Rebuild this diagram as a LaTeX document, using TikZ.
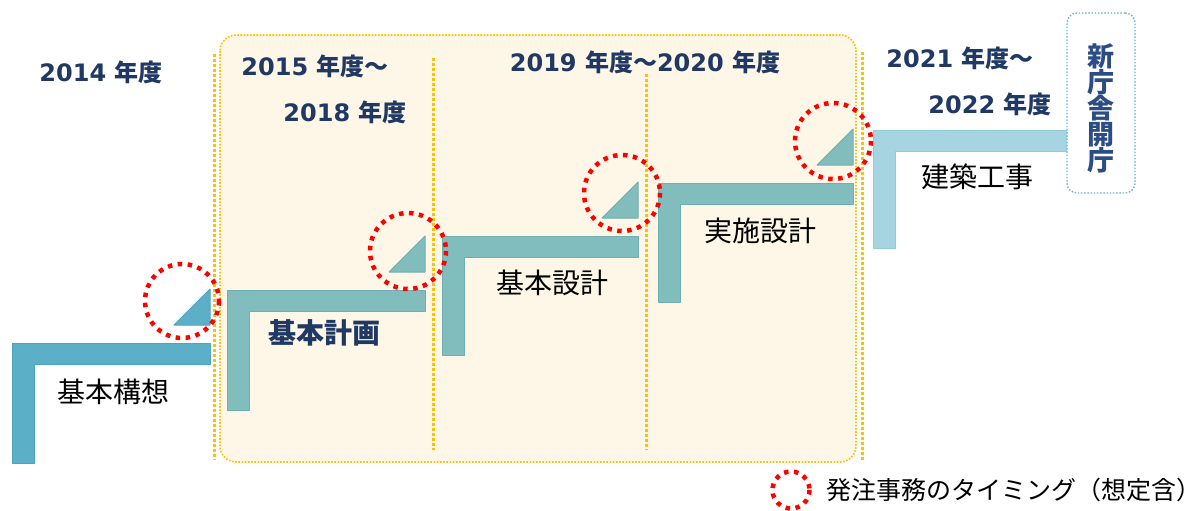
\documentclass[tikz,border=0pt]{standalone}
\usepackage{fontspec}
\setmainfont{DejaVu Sans}
\newfontfamily\cjk{Noto Sans CJK JP}
\definecolor{navy}{HTML}{1F3864}
\definecolor{kblue}{HTML}{2B4C84}
\definecolor{stepA}{HTML}{5BB0C8}
\definecolor{stepAd}{HTML}{4CA5BE}
\definecolor{stepB}{HTML}{80BDBC}
\definecolor{stepBd}{HTML}{6EB0B0}
\definecolor{stepC}{HTML}{A6D5E1}
\definecolor{stepCd}{HTML}{93CADA}
\definecolor{cream}{HTML}{FEF6E6}
\definecolor{gold}{HTML}{FFC000}
\definecolor{lblue}{HTML}{5AB4D6}
\tikzset{
  yearlbl/.style={text=navy, font=\fontsize{24}{28}\selectfont\bfseries, inner sep=0pt},
  phaselbl/.style={text=black, font=\fontsize{28}{30}\selectfont\cjk, inner sep=0pt},
  sepline/.style={draw=gold, line width=3pt, dash pattern=on 3pt off 2pt},
  timing/.style={draw=red, line width=4.5pt, dash pattern=on 4.5pt off 5.5pt},
  stepbar/.style={line width=1pt, line join=round},
}
\newcommand{\stepL}[7]{%
  % #1 x0, #2 x1, #3 top, #4 bottom, #5 fill, #6 border, #7 name
  \draw[stepbar, fill=#5, draw=#6] (#1,#3) -- (#2,#3) -- (#2,#3+21) -- (#1+22,#3+21) -- (#1+22,#4) -- (#1,#4) -- cycle;
  \coordinate (#7) at (#2,#3);
}
\newcommand{\stepTri}[4]{%
  % #1 right x, #2 bar top y, #3 fill, #4 border
  \draw[stepbar, fill=#3, draw=#4] (#1-36,#2-18) -- (#1,#2-54) -- (#1,#2-18) -- cycle;
}
\begin{document}
\begin{tikzpicture}[x=1pt,y=-1pt]
\useasboundingbox (0,0) rectangle (1200,511);
% cream period box
\draw[draw=gold, fill=cream, line width=1.6pt, dash pattern=on 1.6pt off 1.6pt, rounded corners=16pt] (220,35) rectangle (856,462);
% separator lines
\draw[sepline] (214,54) -- (214,460);
\draw[sepline] (433,58) -- (433,450);
\draw[sepline] (646,74) -- (646,450);
\draw[sepline] (862,52) -- (862,460);
% steps
\stepL{12}{210}{343}{463}{stepA}{stepAd}{s1}
\stepTri{210}{343}{stepA}{stepAd}
\stepL{227}{425}{290}{410}{stepB}{stepBd}{s2}
\stepTri{425}{290}{stepB}{stepBd}
\stepL{442}{638}{236}{355}{stepB}{stepBd}{s3}
\stepTri{638}{236}{stepB}{stepBd}
\stepL{658}{853}{183}{302}{stepB}{stepBd}{s4}
\stepTri{853}{183}{stepB}{stepBd}
\stepL{873}{1070}{130}{248}{stepC}{stepCd}{s5}
% timing circles
\draw[timing] (182,301) circle[radius=37];
\draw[timing] (408,251) circle[radius=38];
\draw[timing] (622,193) circle[radius=38];
\draw[timing] (833,141) circle[radius=38];
% year labels
\node[yearlbl] (y2014) at (101,72) {2014 {\cjk 年度}};
\node[yearlbl] (y2015) at (315,66) {2015 {\cjk 年度～}};
\node[yearlbl] (y2018) at (345,112) {2018 {\cjk 年度}};
\node[yearlbl] (y2019) at (645,62) {2019 {\cjk 年度～}2020 {\cjk 年度}};
\node[yearlbl] (y2021) at (960,58) {2021 {\cjk 年度～}};
\node[yearlbl] (y2022) at (990,104) {2022 {\cjk 年度}};
% opening box
\node[draw=lblue, line width=1.4pt, dash pattern=on 1.4pt off 1.8pt, rounded corners=10pt, minimum width=68pt, minimum height=180pt, inner sep=0pt, fill=white] (open) at (1101,103) {};
\node[text=kblue, font=\fontsize{27}{27}\selectfont\cjk\bfseries, align=center, inner sep=0pt] (opentxt) at (1101,108) {新\\[-1pt]庁\\[-1pt]舎\\[-1pt]開\\[-1pt]庁};
% phase labels
\node[phaselbl] (p1) at (113,392) {基本構想};
\node[phaselbl, text=navy, font=\fontsize{28}{30}\selectfont\cjk\bfseries] (p2) at (324,333) {基本計画};
\node[phaselbl] (p3) at (552,283) {基本設計};
\node[phaselbl] (p4) at (760,231) {実施設計};
\node[phaselbl] (p5) at (977,177) {建築工事};
% legend
\draw[timing] (791,490) circle[radius=18.5] coordinate (lg);
\node[anchor=west, inner sep=0pt, font=\fontsize{25}{28}\selectfont\cjk] (lgtxt) at (826,490) {発注事務のタイミング（想定含）};
\end{tikzpicture}
\end{document}
